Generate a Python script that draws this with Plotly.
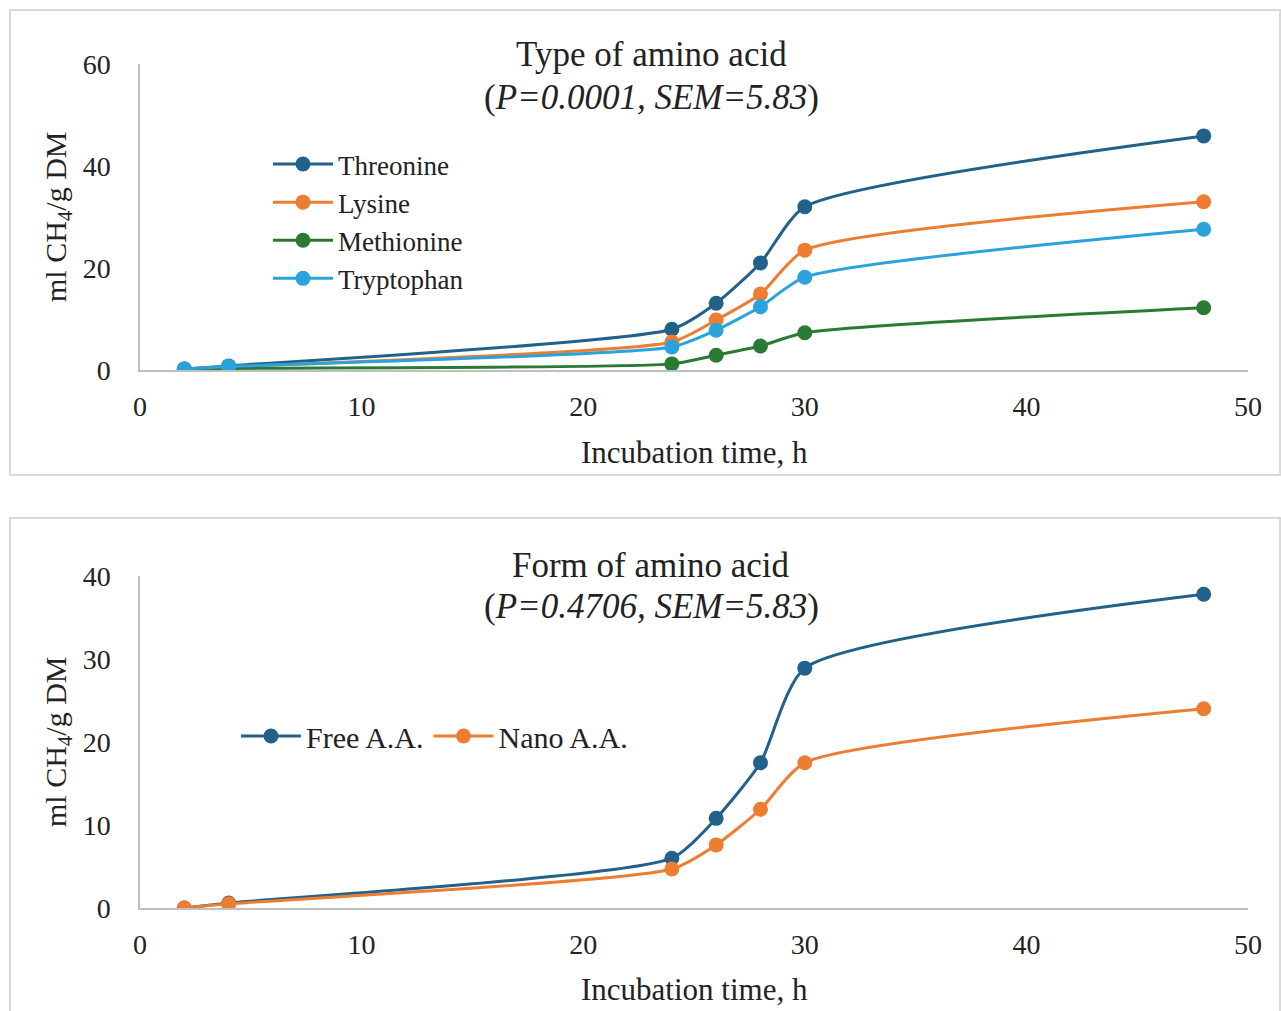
import plotly.graph_objects as go

hours = [2, 4, 24, 26, 28, 30, 48]

threonine = [0.2, 0.8, 8.0, 13.1, 21.0, 32.0, 45.9]
lysine = [0.2, 0.6, 5.5, 9.8, 14.9, 23.5, 33.0]
methionine = [0.1, 0.3, 1.2, 2.9, 4.7, 7.3, 12.2]
tryptophan = [0.2, 0.7, 4.5, 7.8, 12.4, 18.2, 27.6]

free_aa = [0.0, 0.6, 6.0, 10.8, 17.5, 28.9, 37.8]
nano_aa = [0.0, 0.5, 4.7, 7.6, 11.9, 17.5, 24.0]

x_ticks = [0, 10, 20, 30, 40, 50]
top_y_ticks = [0, 20, 40, 60]
bot_y_ticks = [0, 10, 20, 30, 40]

FONT = "Liberation Serif"
C_DARK = "#22618a"
C_ORANGE = "#ed7d31"
C_GREEN = "#2b7a34"
C_LIGHT = "#2aa2dc"

W, H = 1281, 1011

fig = go.Figure()

def add(name, y, color, xa, ya, legend):
    fig.add_trace(go.Scatter(
        x=hours, y=y, name=name, mode="lines+markers",
        line=dict(color=color, width=3, shape="spline", smoothing=0.6),
        marker=dict(color=color, size=15),
        xaxis=xa, yaxis=ya, legend=legend))

add("Threonine", threonine, C_DARK, "x", "y", "legend")
add("Lysine", lysine, C_ORANGE, "x", "y", "legend")
add("Methionine", methionine, C_GREEN, "x", "y", "legend")
add("Tryptophan", tryptophan, C_LIGHT, "x", "y", "legend")
add("Free A.A.", free_aa, C_DARK, "x2", "y2", "legend2")
add("Nano A.A.", nano_aa, C_ORANGE, "x2", "y2", "legend2")

xd = [140 / W, 1248 / W]
top_dom = [1 - 370 / H, 1 - 64 / H]
bot_dom = [1 - 908 / H, 1 - 576 / H]

axis_common = dict(showgrid=False, zeroline=False, showline=True,
                   linecolor="#bfbfbf", linewidth=1.5, automargin=False,
                   ticks="outside", tickcolor="rgba(0,0,0,0)",
                   tickfont=dict(family=FONT, size=28, color="#222"))

fig.update_layout(
    width=W, height=H,
    margin=dict(l=0, r=0, t=0, b=0, pad=0, autoexpand=False),
    paper_bgcolor="white", plot_bgcolor="white",
    font=dict(family=FONT, color="#222"),
    xaxis=dict(domain=xd, range=[0, 50], tickvals=x_ticks, anchor="y",
               ticklen=11, **axis_common),
    yaxis=dict(domain=top_dom, range=[0, 60], tickvals=top_y_ticks, anchor="x",
               ticklen=22, **axis_common),
    xaxis2=dict(domain=xd, range=[0, 50], tickvals=x_ticks, anchor="y2",
                ticklen=11, **axis_common),
    yaxis2=dict(domain=bot_dom, range=[0, 40], tickvals=bot_y_ticks, anchor="x2",
                ticklen=22, **axis_common),
    legend=dict(x=268 / W, y=1 - 140 / H, xanchor="left", yanchor="top",
                font=dict(family=FONT, size=27, color="#222"),
                bgcolor="rgba(0,0,0,0)", tracegroupgap=0, itemwidth=60),
    legend2=dict(x=236 / W, y=1 - 710 / H, xanchor="left", yanchor="top",
                 orientation="h",
                 font=dict(family=FONT, size=30, color="#222"),
                 bgcolor="rgba(0,0,0,0)", itemwidth=60),
    shapes=[
        dict(type="rect", xref="paper", yref="paper",
             x0=10 / W, x1=1280 / W, y0=1 - 475 / H, y1=1 - 10 / H,
             line=dict(color="#d9d9d9", width=2)),
        dict(type="rect", xref="paper", yref="paper",
             x0=10 / W, x1=1280 / W, y0=-0.01, y1=1 - 518 / H,
             line=dict(color="#d9d9d9", width=2)),
    ],
)

ann = []
def text(x, y, s, size=30, angle=0):
    ann.append(dict(x=x / W, y=1 - y / H, xref="paper", yref="paper",
                    text=s, showarrow=False, textangle=angle,
                    font=dict(family=FONT, size=size, color="#222"),
                    xanchor="center", yanchor="middle"))

text(651, 55, "Type of amino acid", size=35)
text(651, 98, "(<i>P=0.0001, SEM=5.83</i>)", size=35)
text(694, 452, "Incubation time, h", size=31)
text(58, 217, "ml CH<sub>4</sub>/g DM", size=30, angle=-90)

text(651, 565, "Form of amino acid", size=35)
text(651, 606, "(<i>P=0.4706, SEM=5.83</i>)", size=35)
text(694, 989, "Incubation time, h", size=31)
text(58, 742, "ml CH<sub>4</sub>/g DM", size=30, angle=-90)

fig.update_layout(annotations=ann)

fig.write_html("out.html", config={"displayModeBar": False},
               post_script="document.body.style.margin='0';document.body.style.overflow='hidden';")
